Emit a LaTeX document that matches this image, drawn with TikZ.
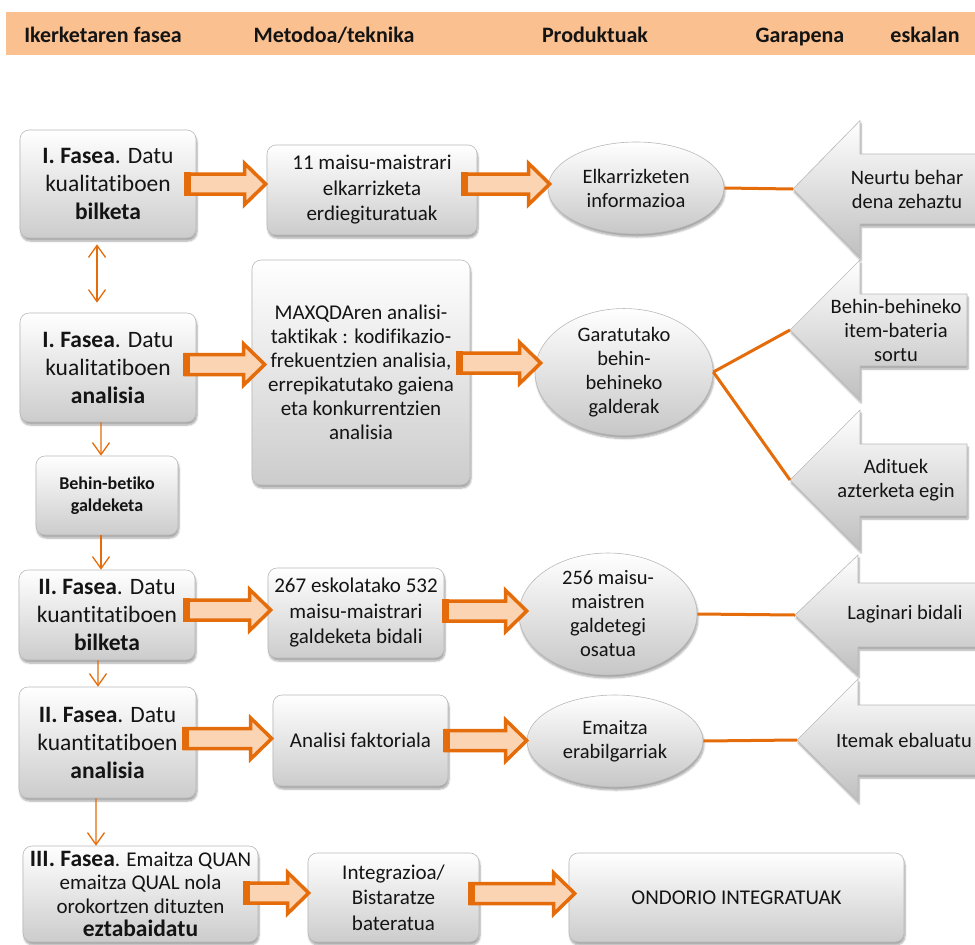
\documentclass[tikz,border=0pt]{standalone}
\usepackage{fontspec}
\setmainfont{Carlito}[Ligatures=CommonOff]
\usetikzlibrary{arrows.meta,shadows,shadows.blur,calc,shapes.geometric}
\definecolor{org}{RGB}{228,108,10}
\definecolor{peach}{RGB}{251,212,180}
\definecolor{hdr}{RGB}{250,192,144}
\definecolor{bord}{RGB}{185,185,185}
\definecolor{ink}{RGB}{20,20,20}
\tikzset{
  every node/.style={text=ink},
  shad/.style={blur shadow={shadow xshift=1bp, shadow yshift=-3bp, shadow blur steps=6, shadow opacity=35}},
  box/.style={draw=bord, line width=0.6bp, rounded corners=9bp, top color=white, bottom color=black!20, shad, align=center, inner sep=2bp},
  ell/.style={ellipse, draw=bord, line width=0.6bp, top color=white, bottom color=black!22, shad, align=center, inner sep=0pt},
  thinarr/.style={draw=org, line width=1.3bp, -{Straight Barb[length=12bp,width=17bp]}},
  link/.style={draw=org, line width=3bp},
  barrowst/.style={draw=org, fill=peach, line width=3.5bp, line join=miter},
  bigarr/.style={draw=bord, line width=0.6bp, top color=white, bottom color=black!25, shad},
  fbig/.style={font=\fontsize{23.5bp}{28bp}\selectfont},
  fmid/.style={font=\fontsize{21bp}{25.5bp}\selectfont},
  fmtwo/.style={font=\fontsize{21bp}{24bp}\selectfont},
  fsmall/.style={font=\fontsize{18bp}{22bp}\selectfont\bfseries},
  fhdr/.style={font=\fontsize{22bp}{26bp}\selectfont\bfseries, anchor=base, inner sep=0pt},
  txt/.style={align=center, inner sep=0pt, font=\fontsize{20.5bp}{24bp}\selectfont}
}
\newcommand\barrow[2]{%
  \draw[barrowst] let \p1=#1, \p2=#2 in
    (\x1,{\y1+10bp}) -- ({\x2-21bp},{\y1+10bp}) -- ({\x2-21bp},{\y1+20.5bp}) -- (\x2,\y1)
    -- ({\x2-21bp},{\y1-20.5bp}) -- ({\x2-21bp},{\y1-10bp}) -- (\x1,{\y1-10bp}) -- cycle;
  \fill[org] let \p1=#1 in ({\x1-2bp},{\y1+11.75bp}) rectangle ({\x1+5bp},{\y1-11.75bp});}
\newcommand\bigarrow[6]{% tip name, xb, H, h, xr
  \path[bigarr] let \p1=(#1) in (\x1,\y1) -- ({#2bp},{\y1+#3bp}) -- ({#2bp},{\y1+#4bp}) -- ({#5bp},{\y1+#4bp})
    -- ({#5bp},{\y1-#4bp}) -- ({#2bp},{\y1-#4bp}) -- ({#2bp},{\y1-#3bp}) -- cycle;}
\newcommand\bigb[1]{{\fontsize{23.5bp}{23.5bp}\selectfont\bfseries #1}}
\begin{document}
\begin{tikzpicture}[x=1bp,y=-1bp]
\useasboundingbox (0,0) rectangle (975,945);
% header
\node[fill=hdr, minimum width=969bp, minimum height=43bp, inner sep=0pt] (band) at (490.5,33.5) {};
\node[fhdr] (h1) at (103,42) {Ikerketaren fasea};
\node[fhdr] (h2) at (334,42) {Metodoa/teknika};
\node[fhdr] (h3) at (595,42) {Produktuak};
\node[fhdr] (h4) at (800,42) {Garapena};
\node[fhdr] (h5) at (925,42) {eskalan};

% big gray arrows (right)
\coordinate (g1) at (793,189);
\coordinate (g2) at (790,330);
\coordinate (g3) at (790,480);
\coordinate (g4) at (795,615);
\coordinate (g5) at (797,740);
\bigarrow{g1}{860}{68.5}{35}{995}{}
\bigarrow{g2}{860}{70}{36}{967}{}
\bigarrow{g3}{860}{70}{36}{967}{}
\bigarrow{g4}{858}{60}{32}{995}{}
\bigarrow{g5}{858}{61}{35}{995}{}
\node[txt] (t1) at (907,189) {Neurtu behar\\dena zehaztu};
\node[txt] (t2) at (896,330) {Behin-behineko\\item-bateria\\sortu};
\node[txt] (t3) at (896,480) {Adituek\\azterketa egin};
\node[txt] (t4) at (905,614) {Laginari bidali};
\node[txt] (t5) at (904,740) {Itemak ebaluatu};

% left column
\node[box, fbig, minimum width=176bp, minimum height=108bp] (b1) at (108,184) {\textbf{I. Fasea}. Datu\\kualitatiboen\\\textbf{bilketa}};
\node[box, fbig, minimum width=176bp, minimum height=109bp] (b2) at (108,367.5) {\textbf{I. Fasea}. Datu\\kualitatiboen\\\textbf{analisia}};
\node[box, fsmall, minimum width=142bp, minimum height=79bp] (b3) at (107,495.5) {Behin-betiko\\galdeketa};
\node[box, fbig, minimum width=176bp, minimum height=90bp] (b4) at (107,615) {\textbf{II. Fasea}. Datu\\kuantitatiboen\\\textbf{bilketa}};
\node[box, fbig, minimum width=177bp, minimum height=111bp] (b5) at (107.5,742.5) {\textbf{II. Fasea}. Datu\\kuantitatiboen\\\textbf{analisia}};
\node[box, font=\fontsize{21bp}{23.5bp}\selectfont, minimum width=235bp, minimum height=96bp] (b6) at (140.5,894) {\bigb{III. Fasea}. Emaitza QUAN\\emaitza QUAL nola\\orokortzen dituzten\\\bigb{eztabaidatu}};

% middle column
\node[box, fmid, minimum width=210bp, minimum height=90bp] (m1) at (372,190) {11 maisu-maistrari\\elkarrizketa\\erdiegituratuak};
\node[box, fmtwo, minimum width=218bp, minimum height=225bp] (m2) at (361,372.5) {MAXQDAren analisi-\\taktikak : kodifikazio-\\frekuentzien analisia,\\errepikatutako gaiena\\eta konkurrentzien\\analisia};
\node[box, fmid, minimum width=176bp, minimum height=90bp] (m3) at (356,613) {267 eskolatako 532\\maisu-maistrari\\galdeketa bidali};
\node[box, fmid, minimum width=175bp, minimum height=91bp] (m4) at (360.5,740.5) {Analisi faktoriala};
\node[box, fmid, minimum width=171bp, minimum height=89bp] (m5) at (393.5,897.5) {Integrazioa/\\Bistaratze\\bateratua};
\node[box, fmid, minimum width=335bp, minimum height=89bp] (m6) at (736.5,897.5) {ONDORIO INTEGRATUAK};

% ellipses
\node[ell, txt, minimum width=176bp, minimum height=92bp] (e1) at (636,188) {Elkarrizketen\\informazioa};
\node[ell, txt, minimum width=178bp, minimum height=120bp] (e2) at (624,372) {Garatutako\\behin-\\behineko\\galderak};
\node[ell, txt, minimum width=178bp, minimum height=105bp] (e3) at (608,614) {256 maisu-\\maistren\\galdetegi\\osatua};
\node[ell, txt, minimum width=176bp, minimum height=92bp] (e4) at (615,741) {Emaitza\\erabilgarriak};

% thin vertical arrows
\draw[thinarr, {Straight Barb[length=12bp,width=17bp]}-{Straight Barb[length=12bp,width=17bp]}, shorten <=6bp, shorten >=10bp] ([xshift=-11bp]b1.south) -- ([xshift=-11bp]b2.north);
\draw[thinarr] ([xshift=-7bp]b2.south) -- ([xshift=-6bp]b3.north);
\draw[thinarr] ([xshift=-6bp]b3.south) -- ([xshift=-6bp]b4.north);
\draw[thinarr] ([xshift=-9bp]b4.south) -- ([xshift=-9.5bp]b5.north);
\draw[thinarr] ([xshift=-11.5bp]b5.south) -- ([xshift=-44.5bp]b6.north);

% orange links
\draw[link] (e1.east) -- (g1);
\draw[link] (e2.east) -- (g2);
\draw[link] (e2.east) -- (g3);
\draw[link] (e3.east) -- (g4);
\draw[link] (e4.east) -- (g5);

% block arrows
\barrow{($(b1.east)+(-10,0)$)}{($(m1.west)+(-1,0)$)}
\barrow{($(m1.east)+(-14,-6)$)}{($(e1.west)+(2,0)$)}
\barrow{($(b2.east)+(-11,-3)$)}{($(m2.west)+(13,0)$)}
\barrow{($(m2.east)+(-12,-9.5)$)}{($(e2.west)+(6,0)$)}
\barrow{($(b4.east)+(-10,-5)$)}{($(m3.west)+(3,0)$)}
\barrow{($(m3.east)+(0,-2)$)}{($(e3.west)+(8,0)$)}
\barrow{($(b5.east)+(-12,-4)$)}{($(m4.west)+(-1,0)$)}
\barrow{($(m4.east)+(-3,0)$)}{($(e4.west)+(0,0)$)}
\barrow{($(b6.east)+(-13,-1)$)}{($(m5.west)+(1,0)$)}
\barrow{($(m5.east)+(-9,-4)$)}{($(m6.west)+(6,0)$)}
\end{tikzpicture}
\end{document}
